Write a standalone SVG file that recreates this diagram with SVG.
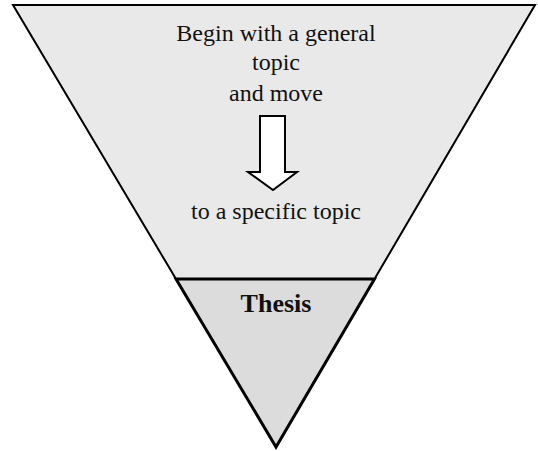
<svg xmlns="http://www.w3.org/2000/svg" width="538" height="451" viewBox="0 0 538 451">
<style>
.t{font-family:"Liberation Serif","Times New Roman",serif;font-size:24px;fill:#111;text-anchor:middle}
.b{font-family:"Liberation Serif","Times New Roman",serif;font-size:26px;font-weight:bold;fill:#111;text-anchor:middle}
.s{stroke:#000;stroke-width:2;stroke-linejoin:miter}
</style>
<rect width="538" height="451" fill="#fff"/>
<g id="general">
<polygon class="s" points="13,5 535,5 374.5,279 176,279" fill="#e9e9e9"/>
<text class="t" x="276" y="41">Begin with a general</text>
<text class="t" x="276" y="70">topic</text>
<text class="t" x="276" y="101">and move</text>
<text class="t" x="276" y="219">to a specific topic</text>
</g>
<g id="connectors">
<polygon class="s" points="260,116 285,116 285,172 297,172 273,190 248,172 260,172" fill="#fff" stroke-width="1.5"/>
</g>
<g id="thesis">
<polygon points="176,279 374.5,279 276,447" fill="#dcdcdc" stroke="#000" stroke-width="3"/>
<text class="b" x="276" y="312">Thesis</text>
</g>
</svg>
